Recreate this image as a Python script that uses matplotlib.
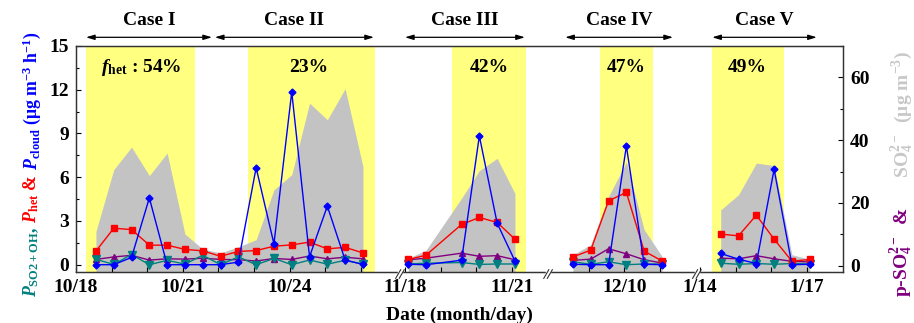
import matplotlib
matplotlib.use("Agg")
import matplotlib.pyplot as plt
from matplotlib.ticker import FixedLocator, MultipleLocator
import matplotlib.transforms as mtransforms

plt.rcParams['font.family'] = ['Liberation Serif', 'DejaVu Serif']
plt.rcParams['font.weight'] = 'bold'
plt.rcParams['mathtext.fontset'] = 'custom'
plt.rcParams['mathtext.rm'] = 'Liberation Serif:bold'
plt.rcParams['mathtext.bf'] = 'Liberation Serif:bold'
plt.rcParams['mathtext.it'] = 'Liberation Serif:italic:bold'

# ---------------- data (day of month, values) ----------------
# Case I & II (October)
t_oct = [18.56, 19.06, 19.56, 20.06, 20.56, 21.06, 21.56, 22.06,
         22.56, 23.06, 23.56, 24.06, 24.56, 25.06, 25.56, 26.06]
het_oct = [0.93, 2.50, 2.41, 1.34, 1.34, 1.05, 0.95, 0.58,
           0.91, 0.97, 1.27, 1.36, 1.55, 1.09, 1.19, 0.81]
cloud_oct = [0.0, 0.0, 0.50, 4.58, 0.0, 0.0, 0.0, 0.0,
             0.18, 6.65, 1.43, 11.85, 0.55, 4.02, 0.32, 0.02]
oh_oct = [0.37, 0.02, 0.70, 0.0, 0.30, 0.04, 0.65, 0.0,
          0.54, 0.0, 0.43, 0.0, 0.32, 0.04, 0.30, 0.04]
pso4_oct = [2.0, 2.8, 3.3, 1.8, 2.2, 2.1, 2.4, 2.0,
            1.9, 1.5, 2.3, 2.0, 3.1, 2.2, 2.7, 2.2]
so4_oct = [10.9, 30.6, 37.8, 28.7, 35.9, 10.1, 5.3, 4.1,
           6.0, 8.3, 24.2, 29.0, 51.8, 46.5, 56.4, 31.6]

# Case III (November)
t_nov = [18.09, 18.59, 19.59, 20.09, 20.59, 21.09]
het_nov = [0.36, 0.65, 2.76, 3.24, 2.90, 1.75]
cloud_nov = [0.03, 0.0, 0.31, 8.83, 2.85, 0.25]
oh_nov = [0.05, 0.10, 0.15, 0.02, 0.05, 0.05]
pso4_nov = [1.9, 2.4, 4.0, 3.0, 3.2, 1.9]
so4_nov = [2.4, 4.9, 21.5, 30.3, 34.2, 23.0]

# Case IV (December)
t_dec = [8.56, 9.06, 9.56, 10.06, 10.56, 11.06]
het_dec = [0.54, 1.00, 4.38, 4.96, 0.93, 0.26]
cloud_dec = [0.03, 0.0, 0.0, 8.14, 0.03, 0.0]
oh_dec = [0.20, 0.03, 0.20, 0.0, 0.05, 0.05]
pso4_dec = [1.7, 2.1, 5.4, 3.8, 1.9, 0.85]
so4_dec = [3.5, 6.7, 22.1, 33.0, 11.5, 3.0]

# Case V (January)
t_jan = [14.58, 15.08, 15.58, 16.08, 16.58, 17.08]
het_jan = [2.10, 1.98, 3.40, 1.75, 0.24, 0.36]
cloud_jan = [0.77, 0.38, 0.08, 6.54, 0.0, 0.03]
oh_jan = [0.10, 0.03, 0.08, 0.03, 0.08, 0.05]
pso4_jan = [2.4, 2.2, 3.2, 2.2, 1.4, 1.2]
so4_jan = [17.8, 22.6, 32.7, 31.9, 3.5, 2.1]

case_names = ['Case I', 'Case II', 'Case III', 'Case IV', 'Case V']
f_het = ['54%', '23%', '42%', '47%', '49%']

# tick dates per segment (day of month) and labels
tick_major = [('oct', 18, '10/18'), ('oct', 21, '10/21'), ('oct', 24, '10/24'),
              ('nov', 18, '11/18'), ('nov', 21, '11/21'), ('dec', 10, '12/10'),
              ('jan', 14, '1/14'), ('jan', 17, '1/17')]
tick_minor = [('oct', d) for d in (19, 20, 22, 23, 25, 26)] + \
             [('nov', d) for d in (19, 20)] + [('dec', d) for d in (9, 11)] + \
             [('jan', d) for d in (15, 16)]

# ---------------- layout of the broken axis ----------------
seg_shift = {'oct': -18.0, 'nov': -8.76, 'dec': 5.40, 'jan': 3.53}
def X(seg, days):
    return [d + seg_shift[seg] for d in days]

yellow = [(0.28, 3.34), (4.83, 8.41), (10.57, 12.63), (14.72, 16.21), (17.86, 19.89)]
arrows = [(0.28, 3.82), (3.90, 8.37), (9.24, 12.61), (13.74, 16.77), (17.87, 20.81)]
pct_x = [1.84, 6.55, 11.6, 15.45, 18.85]
breaks = [9.10, 13.26, 17.44]

W, H = 914, 323
fig = plt.figure(figsize=(W / 100, H / 100), dpi=100)
ax1 = fig.add_axes([76 / W, 1 - 272 / H, (843 - 76) / W, (272 - 46) / H])
ax2 = ax1.twinx()
ax1.set_zorder(ax2.get_zorder() + 1)
ax1.patch.set_visible(False)

XMAX = (843 - 76) / 35.6
ax1.set_xlim(0, XMAX)
ax1.set_ylim(-0.5, 15)
ax2.set_ylim(-2, 70)

C_RED, C_BLUE, C_TEAL, C_PUR = '#FF0000', '#0000FF', '#008080', '#800080'
C_GREY, C_YEL = '#C3C3C3', '#FFFF80'

for a, b in yellow:
    ax2.axvspan(a, b, color=C_YEL, lw=0, zorder=0)

segs = [('oct', t_oct, het_oct, cloud_oct, oh_oct, pso4_oct, so4_oct),
        ('nov', t_nov, het_nov, cloud_nov, oh_nov, pso4_nov, so4_nov),
        ('dec', t_dec, het_dec, cloud_dec, oh_dec, pso4_dec, so4_dec),
        ('jan', t_jan, het_jan, cloud_jan, oh_jan, pso4_jan, so4_jan)]

for seg, t, het, cloud, oh, pso4, so4 in segs:
    x = X(seg, t)
    ax2.fill_between(x, -2, so4, color=C_GREY, lw=0, zorder=1)
    ax2.plot(x, pso4, color=C_PUR, lw=1.0, marker='^', ms=5, zorder=3)
    ax1.plot(x, oh, color=C_TEAL, lw=1.0, marker='v', ms=5.5, zorder=3)
    ax1.plot(x, het, color=C_RED, lw=1.0, marker='s', ms=4.5, zorder=4)
    ax1.plot(x, cloud, color=C_BLUE, lw=1.0, marker='D', ms=3.5, zorder=5)

# ticks
ax1.xaxis.set_major_locator(FixedLocator([X(s, [d])[0] for s, d, _ in tick_major]))
ax1.set_xticklabels([lab for _, _, lab in tick_major])
ax1.xaxis.set_minor_locator(FixedLocator([X(s, [d])[0] for s, d in tick_minor]))
ax1.yaxis.set_major_locator(MultipleLocator(3))
ax1.yaxis.set_minor_locator(MultipleLocator(1.5))
ax2.yaxis.set_major_locator(FixedLocator([0, 20, 40, 60]))
ax2.yaxis.set_minor_locator(FixedLocator([10, 30, 50, 70]))

ax1.tick_params(axis='x', which='both', direction='in', length=3.5, width=0.8, pad=5,
                labelsize=14, top=False)
ax1.tick_params(axis='y', which='major', direction='in', length=3.5, width=0.8, pad=5,
                labelsize=14, right=False)
ax1.tick_params(axis='y', which='minor', direction='in', length=2.5, width=0.8, right=False)
ax2.tick_params(axis='y', which='major', direction='in', length=3.5, width=0.8, pad=5,
                labelsize=14)
ax2.tick_params(axis='y', which='minor', direction='in', length=2.5, width=0.8)
for a in (ax1, ax2):
    for sp in a.spines.values():
        sp.set_color('#333333')
        sp.set_linewidth(0.9)

ax1.set_xlabel('Date (month/day)', fontsize=14, fontweight='bold', labelpad=8)

# axis break marks
trans = mtransforms.blended_transform_factory(ax1.transData, ax1.transAxes)
for bx in breaks:
    ax1.add_patch(plt.Rectangle((bx - 0.06, -0.01), 0.12, 0.02, transform=trans,
                                color='white', clip_on=False, zorder=10))
    for off in (-0.05, 0.05):
        ax1.plot([bx + off - 0.07, bx + off + 0.07], [-0.028, 0.01], color='#333333',
                 lw=0.8, transform=trans, clip_on=False, zorder=11)

# case labels and arrows
for (a, b), name in zip(arrows, case_names):
    ax1.annotate('', xy=(a, 1.0385), xytext=(b, 1.0385), xycoords=trans, textcoords=trans,
                 arrowprops=dict(arrowstyle='<|-|>,head_length=0.5,head_width=0.15',
                                 color='black', lw=0.9, shrinkA=0, shrinkB=0))
    ax1.text((a + b) / 2, 1.111, name, transform=trans, ha='center', va='center',
             fontsize=14, fontweight='bold')

for i, (px, p) in enumerate(zip(pct_x, f_het)):
    s = r'$f_{\mathrm{het}}$ : ' + p if i == 0 else p
    ax1.text(px, 0.903, s, transform=trans, ha='center', va='center', fontsize=14,
             fontweight='bold')

# multicolour rotated y labels
renderer = fig.canvas.get_renderer()
def stacked_label(x_px, y_px, pieces, fs=13):
    y = y_px
    for s, c in pieces:
        t = fig.text(x_px / W, y / H, s, color=c, rotation=90, rotation_mode='anchor',
                     ha='left', va='baseline', fontsize=fs, fontweight='bold')
        bb = t.get_window_extent(renderer)
        y += bb.height

stacked_label(36.5, H - 297, [
    (r'$P_{\mathrm{SO2+OH}}$,', C_TEAL),
    (r' $P_{\mathrm{het}}$ &', C_RED),
    (r' $P_{\mathrm{cloud}}$ ($\mathrm{\mu}$g m$^{-3}$ h$^{-1}$)', C_BLUE)], fs=12.8)
stacked_label(908, H - 297, [
    (r'p-SO$_4^{2-}$  &', C_PUR),
    (r'      SO$_4^{2-}$  (μg m$^{-3}$)', '#C8C8C8')], fs=14)

fig.savefig('out.png', dpi=100)
